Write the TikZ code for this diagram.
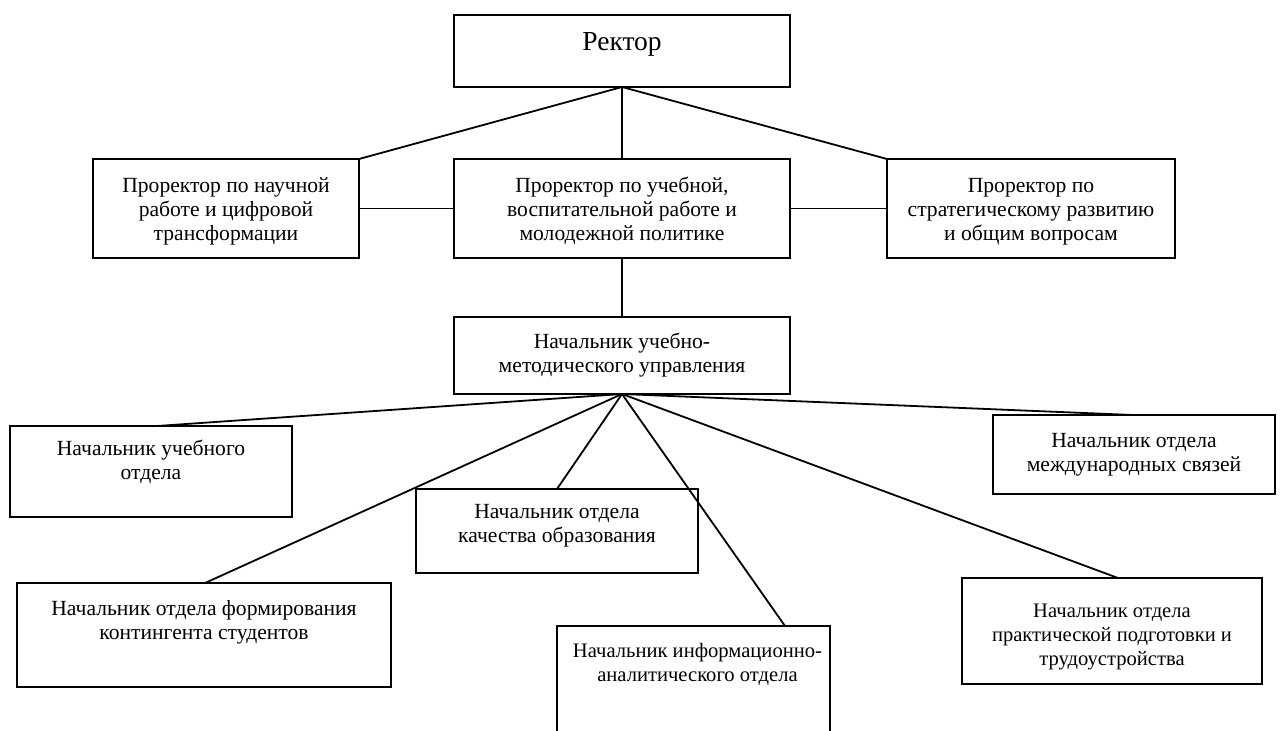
\documentclass[tikz,border=0pt]{standalone}
\usepackage{fontspec}
\setmainfont{Liberation Serif}
\newcommand{\bxt}[4]{\parbox[c][#2pt][t]{#1pt}{\centering\fontsize{21.6}{24}\selectfont\rule{0pt}{#3pt}#4}}
\newcommand{\bxs}[5]{\parbox[c][#2pt][t]{#1pt}{\centering\fontsize{#4}{24}\selectfont\rule{0pt}{#3pt}#5}}
\newcommand{\bxr}[4]{\parbox[c][#2pt][t]{#1pt}{\centering\fontsize{27.5}{30}\selectfont\rule{0pt}{#3pt}#4}}
\begin{document}
\begin{tikzpicture}[x=1pt,y=-1pt,
  box/.style={draw, line width=1.8pt, inner sep=0pt, outer sep=0pt, anchor=north west},
  conn/.style={line width=1.8pt}]
\useasboundingbox (0,0) rectangle (1283,731);
\clip (0,0) rectangle (1283,731);
\fill[white] (0,0) rectangle (1283,731);

\node[box] (rector) at (454,15) {\bxr{336}{72}{35}{Ректор}};
\node[box] (nauch) at (93,159) {\bxt{266}{99}{33}{Проректор по научной\\работе и цифровой\\трансформации}};
\node[box] (ucheb) at (454,159) {\bxt{336}{99}{33}{Проректор по учебной,\\воспитательной работе и\\молодежной политике}};
\node[box] (strat) at (887,159) {\bxt{288}{99}{33}{Проректор по\\стратегическому развитию\\и общим вопросам}};
\node[box] (umu) at (454,317) {\bxt{336}{77}{31}{Начальник учебно-\\методического управления}};
\node[box] (uo) at (10,426) {\bxt{282}{91}{29}{Начальник учебного\\отдела}};
\node[box] (kach) at (416,489) {\bxt{282}{84}{29}{Начальник отдела\\качества образования}};
\node[box] (mezh) at (993,415) {\bxt{282}{79}{32}{Начальник отдела\\международных связей}};
\node[box] (form) at (17,583) {\bxt{374}{104}{32}{Начальник отдела формирования\\контингента студентов}};
\node[box] (inf) at (557,626) {\bxs{273}{130}{31}{20.6}{\hspace*{8pt}Начальник информационно-\\\hspace*{8pt}аналитического отдела}};
\node[box] (prak) at (962,578) {\bxs{300}{106}{39}{20.6}{Начальник отдела\\практической подготовки и\\трудоустройства}};

\draw[conn] (rector.south) -- (nauch.north east);
\draw[conn] (rector.south) -- (ucheb.north);
\draw[conn] (rector.south) -- (strat.north west);
\draw[conn] (nauch.east) -- (ucheb.west);
\draw[conn] (ucheb.east) -- (strat.west);
\draw[conn] (ucheb.south) -- (umu.north);

\draw[conn] (umu.south) -- ([xshift=147pt]uo.north west);
\draw[conn] (umu.south) -- ([xshift=188pt]form.north west);
\draw[conn] (umu.south) -- ([xshift=141pt]kach.north west);
\draw[conn] (umu.south) -- ([xshift=228pt]inf.north west);
\draw[conn] (umu.south) -- ([xshift=156pt]prak.north west);
\draw[conn] (umu.south) -- ([xshift=140pt]mezh.north west);
\end{tikzpicture}
\end{document}
